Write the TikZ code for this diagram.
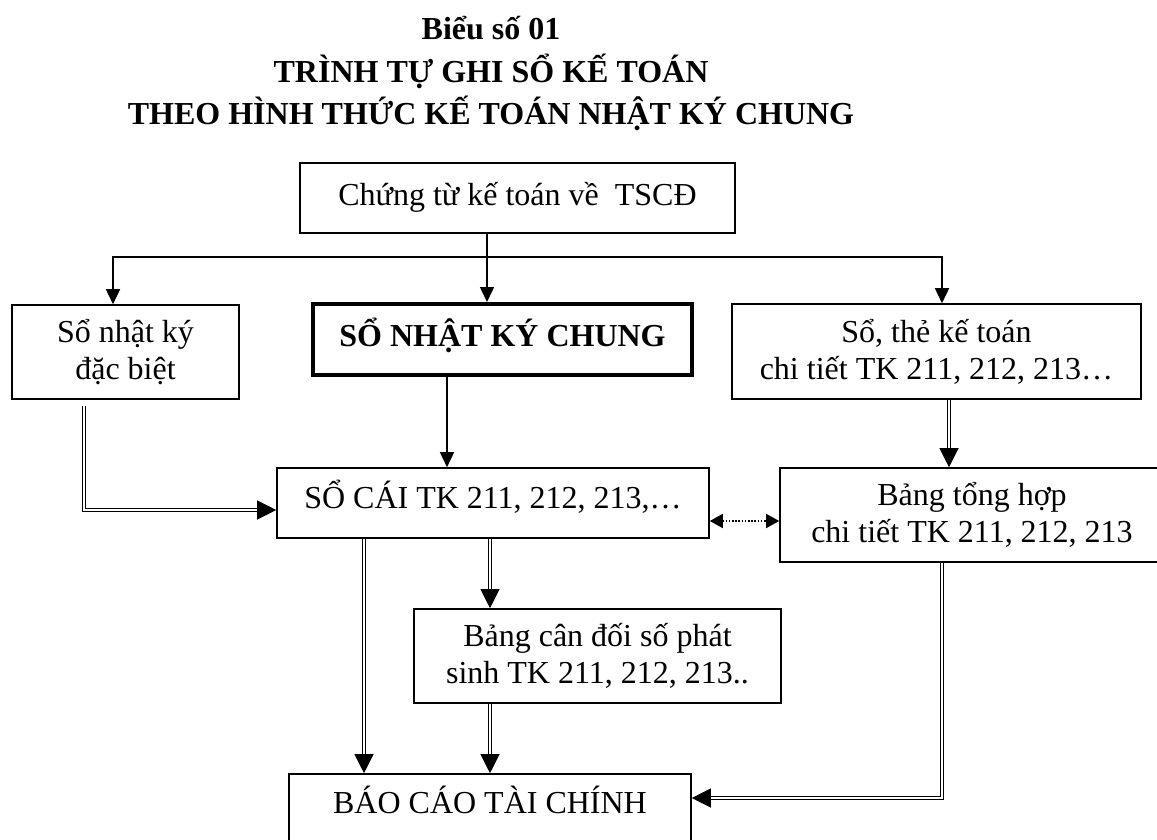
\documentclass[tikz,border=0pt]{standalone}
\usepackage{fontspec}
\setmainfont{Liberation Serif}
\usetikzlibrary{arrows.meta,calc}

\tikzset{
  txt/.style={font=\fontsize{32}{37}\selectfont},
  box/.style={draw, line width=1.6pt, rectangle, inner sep=0pt, align=center, txt},
  onebox/.style={box, text height=22pt, text depth=8pt},
  arr/.style={line width=1.6pt, -{Triangle[length=15pt,width=14pt]}},
  dbl/.style={double, double distance=2.2pt, line width=1.2pt,
              -{Triangle[length=19pt,width=19pt]}},
  dotarr/.style={line width=1.6pt, dash pattern=on 1.6pt off 1.6pt,
                 {Triangle[length=13pt,width=14pt]}-{Triangle[length=13pt,width=14pt]}},
  title/.style={anchor=base, font=\fontsize{32}{37}\selectfont\bfseries}
}

\begin{document}
\begin{tikzpicture}[x=1pt,y=-1pt]
\useasboundingbox (0,0) rectangle (1157,840);

% heading
\node[title] (t1) at (491,40)  {Biểu số 01};
\node[title] (t2) at (491,83)  {TRÌNH TỰ GHI SỔ KẾ TOÁN};
\node[title] (t3) at (491,125) {THEO HÌNH THỨC KẾ TOÁN NHẬT KÝ CHUNG};

% boxes
\node[onebox, minimum width=435pt, minimum height=70pt] (top) at (517.5,198)
  {Chứng từ kế toán về~~TSCĐ};
\node[box, minimum width=227pt, minimum height=94pt] (sdb) at (125.5,352)
  {Sổ nhật ký\\đặc biệt};
\node[onebox, line width=4pt, font=\fontsize{32}{37}\selectfont\bfseries,
      minimum width=379pt, minimum height=71pt] (snkc) at (502.5,339.5)
  {SỔ NHẬT KÝ CHUNG};
\node[box, minimum width=409pt, minimum height=95pt] (sthe) at (936.5,351.5)
  {Sổ, thẻ kế toán\\chi tiết TK 211, 212, 213…};
\node[onebox, minimum width=432pt, minimum height=70pt, text height=20pt, text depth=10pt]
  (socai) at (493,503) {SỔ CÁI TK 211, 212, 213,…};
\node[box, minimum width=384pt, minimum height=94pt] (bth) at (972,515)
  {Bảng tổng hợp\\chi tiết TK 211, 212, 213};
\node[box, minimum width=367pt, minimum height=94pt] (bcd) at (597.5,656)
  {Bảng cân đối số phát\\sinh TK 211, 212, 213..};
\node[onebox, minimum width=402pt, minimum height=72pt, text depth=16pt]
  (bctc) at (490,810) {BÁO CÁO TÀI CHÍNH};

% connector columns and rows
\coordinate (xc)  at (487,0);
\coordinate (xl)  at (113,0);
\coordinate (xr)  at (942,0);
\coordinate (xr2) at (949,0);
\coordinate (xs)  at (447,0);
\coordinate (xd1) at (364,0);
\coordinate (xd2) at (490,0);
\coordinate (xdl) at (84,0);
\coordinate (yb)  at (0,257);
\coordinate (yl)  at (0,510);
\coordinate (ydt) at (0,521);
\coordinate (ybt) at (0,798);

% single arrows
\draw[arr] (top.south -| xc) -- (snkc.north -| xc);
\draw[arr] (yb -| xc) -| (sdb.north -| xl);
\draw[arr] (yb -| xc) -| (sthe.north -| xr);
\draw[arr] (snkc.south -| xs) -- (socai.north -| xs);

% double arrows
\draw[dbl] ($(sdb.south -| xdl)+(0,6)$) |- (socai.west |- yl);
\draw[dbl] (sthe.south -| xr2) -- (bth.north -| xr2);
\draw[dbl] (bth.south -| xr) |- (bctc.east |- ybt);
\draw[dbl] (socai.south -| xd1) -- (bctc.north -| xd1);
\draw[dbl] (socai.south -| xd2) -- (bcd.north -| xd2);
\draw[dbl] (bcd.south -| xd2) -- (bctc.north -| xd2);

% dotted two-way arrow
\draw[dotarr] (socai.east |- ydt) -- (bth.west |- ydt);
\end{tikzpicture}
\end{document}
